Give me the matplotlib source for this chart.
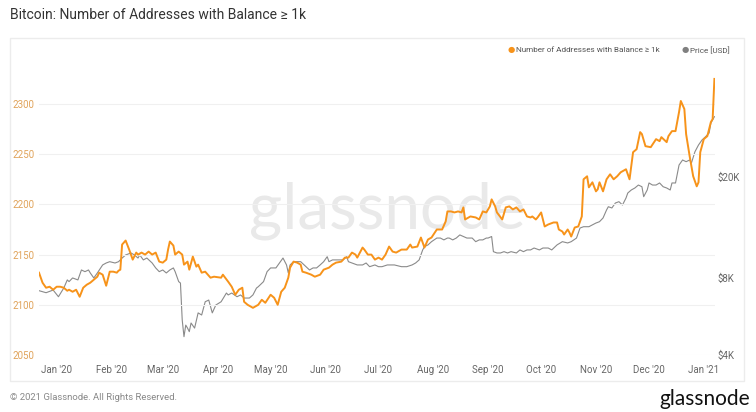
import pandas as pd
import numpy as np
import matplotlib.pyplot as plt
import matplotlib.dates as mdates
from matplotlib.patches import Rectangle
from matplotlib.ticker import FixedLocator, FixedFormatter, NullLocator

plt.rcParams['font.family'] = ['Roboto', 'DejaVu Sans']

# Number of addresses with balance >= 1k (left axis)
addr_dates = [
    "2019-12-22", "2019-12-24", "2019-12-26", "2019-12-28", "2019-12-30",
    "2020-01-01", "2020-01-03", "2020-01-05", "2020-01-07", "2020-01-08",
    "2020-01-10", "2020-01-12", "2020-01-14", "2020-01-16", "2020-01-18",
    "2020-01-20", "2020-01-22", "2020-01-24", "2020-01-25", "2020-01-27",
    "2020-01-29", "2020-01-31", "2020-02-02", "2020-02-04", "2020-02-05",
    "2020-02-06", "2020-02-07", "2020-02-09", "2020-02-11", "2020-02-13",
    "2020-02-15", "2020-02-16", "2020-02-18", "2020-02-20", "2020-02-22",
    "2020-02-24", "2020-02-26", "2020-02-28", "2020-03-01", "2020-03-03",
    "2020-03-04", "2020-03-05", "2020-03-07", "2020-03-08", "2020-03-10",
    "2020-03-12", "2020-03-13", "2020-03-15", "2020-03-16", "2020-03-18",
    "2020-03-20", "2020-03-21", "2020-03-23", "2020-03-25", "2020-03-28",
    "2020-03-30", "2020-04-03", "2020-04-04", "2020-04-07", "2020-04-09",
    "2020-04-11", "2020-04-13", "2020-04-15", "2020-04-16", "2020-04-18",
    "2020-04-21", "2020-04-24", "2020-04-26", "2020-04-28", "2020-05-01",
    "2020-05-03", "2020-05-05", "2020-05-07", "2020-05-09", "2020-05-11",
    "2020-05-12", "2020-05-14", "2020-05-16", "2020-05-18", "2020-05-19",
    "2020-05-21", "2020-05-24", "2020-05-26", "2020-05-29", "2020-05-31",
    "2020-06-03", "2020-06-05", "2020-06-07", "2020-06-10", "2020-06-12",
    "2020-06-14", "2020-06-16", "2020-06-18", "2020-06-19", "2020-06-22",
    "2020-06-23", "2020-06-25", "2020-06-27", "2020-06-29", "2020-07-01",
    "2020-07-03", "2020-07-05", "2020-07-07", "2020-07-09", "2020-07-11",
    "2020-07-14", "2020-07-17", "2020-07-19", "2020-07-20", "2020-07-23",
    "2020-07-25", "2020-07-27", "2020-07-29", "2020-07-31", "2020-08-03",
    "2020-08-06", "2020-08-08", "2020-08-09", "2020-08-11", "2020-08-13",
    "2020-08-15", "2020-08-17", "2020-08-18", "2020-08-19", "2020-08-22",
    "2020-08-25", "2020-08-27", "2020-08-29", "2020-08-31", "2020-09-02",
    "2020-09-03", "2020-09-05", "2020-09-06", "2020-09-09", "2020-09-11",
    "2020-09-13", "2020-09-15", "2020-09-17", "2020-09-19", "2020-09-21",
    "2020-09-23", "2020-09-25", "2020-09-26", "2020-09-28", "2020-09-29",
    "2020-10-01", "2020-10-03", "2020-10-05", "2020-10-08", "2020-10-10",
    "2020-10-11", "2020-10-13", "2020-10-14", "2020-10-16", "2020-10-17",
    "2020-10-18", "2020-10-20", "2020-10-22", "2020-10-24", "2020-10-25",
    "2020-10-27", "2020-10-28", "2020-10-30", "2020-11-01", "2020-11-02",
    "2020-11-03", "2020-11-05", "2020-11-07", "2020-11-09", "2020-11-11",
    "2020-11-13", "2020-11-15", "2020-11-16", "2020-11-18", "2020-11-20",
    "2020-11-22", "2020-11-24", "2020-11-26", "2020-11-27", "2020-11-29",
    "2020-12-02", "2020-12-05", "2020-12-07", "2020-12-08", "2020-12-11",
    "2020-12-12", "2020-12-14", "2020-12-16", "2020-12-18", "2020-12-19",
    "2020-12-21", "2020-12-22", "2020-12-24", "2020-12-26", "2020-12-28",
    "2020-12-29", "2020-12-30", "2021-01-01", "2021-01-03", "2021-01-05",
    "2021-01-06", "2021-01-07",
]
addr_values = [
    2132, 2122, 2117, 2118, 2115,
    2118, 2118, 2117, 2114, 2115,
    2113, 2115, 2108, 2117, 2120,
    2122, 2125, 2128, 2132, 2130,
    2119, 2133, 2133, 2132, 2134,
    2135, 2160, 2164, 2155, 2145,
    2152, 2150, 2152, 2150, 2153,
    2150, 2152, 2143, 2142, 2145,
    2155, 2163, 2159, 2150, 2153,
    2150, 2140, 2143, 2135, 2148,
    2138, 2140, 2132, 2133, 2127,
    2128, 2127, 2130, 2123, 2118,
    2110, 2115, 2117, 2103, 2100,
    2097, 2100, 2105, 2102, 2110,
    2107, 2100, 2113, 2117, 2127,
    2137, 2143, 2142, 2140, 2133,
    2132, 2130, 2128, 2130, 2135,
    2137, 2140, 2142, 2143, 2147,
    2147, 2152, 2150, 2147, 2157,
    2155, 2150, 2150, 2145, 2147,
    2145, 2150, 2158, 2153, 2152,
    2155, 2155, 2160, 2157, 2158,
    2167, 2157, 2165, 2167, 2175,
    2175, 2183, 2193, 2193, 2192,
    2193, 2192, 2197, 2185, 2188,
    2187, 2185, 2193, 2192, 2198,
    2205, 2198, 2192, 2185, 2197,
    2198, 2195, 2197, 2193, 2195,
    2188, 2187, 2188, 2185, 2187,
    2192, 2178, 2180, 2182, 2182,
    2175, 2173, 2170, 2175, 2172,
    2168, 2177, 2178, 2188, 2225,
    2228, 2217, 2222, 2213, 2215,
    2222, 2213, 2225, 2230, 2225,
    2228, 2232, 2233, 2235, 2225,
    2252, 2255, 2272, 2270, 2258,
    2257, 2265, 2263, 2267, 2262,
    2268, 2273, 2273, 2292, 2303,
    2295, 2270, 2248, 2228, 2218,
    2222, 2252, 2265, 2268, 2282,
    2285, 2325,
]

# BTC price in USD (right axis, log)
price_dates = [
    "2019-12-22", "2019-12-26", "2019-12-30", "2020-01-02", "2020-01-05",
    "2020-01-07", "2020-01-08", "2020-01-10", "2020-01-13", "2020-01-15",
    "2020-01-17", "2020-01-19", "2020-01-20", "2020-01-22", "2020-01-24",
    "2020-01-27", "2020-01-29", "2020-01-31", "2020-02-03", "2020-02-05",
    "2020-02-07", "2020-02-09", "2020-02-12", "2020-02-14", "2020-02-16",
    "2020-02-17", "2020-02-19", "2020-02-21", "2020-02-24", "2020-02-26",
    "2020-02-28", "2020-03-01", "2020-03-03", "2020-03-05", "2020-03-07",
    "2020-03-08", "2020-03-10", "2020-03-11", "2020-03-12", "2020-03-13",
    "2020-03-14", "2020-03-15", "2020-03-16", "2020-03-17", "2020-03-19",
    "2020-03-21", "2020-03-23", "2020-03-25", "2020-03-27", "2020-03-29",
    "2020-03-31", "2020-04-03", "2020-04-06", "2020-04-07", "2020-04-09",
    "2020-04-12", "2020-04-14", "2020-04-16", "2020-04-19", "2020-04-21",
    "2020-04-23", "2020-04-24", "2020-04-27", "2020-04-29", "2020-05-01",
    "2020-05-04", "2020-05-06", "2020-05-08", "2020-05-10", "2020-05-11",
    "2020-05-12", "2020-05-14", "2020-05-16", "2020-05-18", "2020-05-21",
    "2020-05-23", "2020-05-25", "2020-05-27", "2020-05-29", "2020-05-31",
    "2020-06-02", "2020-06-03", "2020-06-05", "2020-06-08", "2020-06-11",
    "2020-06-13", "2020-06-14", "2020-06-16", "2020-06-19", "2020-06-22",
    "2020-06-24", "2020-06-26", "2020-06-29", "2020-07-01", "2020-07-03",
    "2020-07-06", "2020-07-10", "2020-07-14", "2020-07-17", "2020-07-20",
    "2020-07-22", "2020-07-24", "2020-07-26", "2020-07-27", "2020-07-29",
    "2020-07-31", "2020-08-03", "2020-08-05", "2020-08-07", "2020-08-09",
    "2020-08-10", "2020-08-12", "2020-08-14", "2020-08-16", "2020-08-18",
    "2020-08-20", "2020-08-23", "2020-08-25", "2020-08-27", "2020-08-29",
    "2020-08-31", "2020-09-01", "2020-09-03", "2020-09-04", "2020-09-06",
    "2020-09-08", "2020-09-10", "2020-09-12", "2020-09-14", "2020-09-17",
    "2020-09-19", "2020-09-21", "2020-09-23", "2020-09-25", "2020-09-27",
    "2020-09-30", "2020-10-02", "2020-10-05", "2020-10-07", "2020-10-10",
    "2020-10-13", "2020-10-16", "2020-10-18", "2020-10-21", "2020-10-23",
    "2020-10-25", "2020-10-28", "2020-10-30", "2020-11-01", "2020-11-03",
    "2020-11-05", "2020-11-07", "2020-11-08", "2020-11-10", "2020-11-12",
    "2020-11-14", "2020-11-16", "2020-11-18", "2020-11-19", "2020-11-21",
    "2020-11-23", "2020-11-25", "2020-11-27", "2020-11-28", "2020-11-30",
    "2020-12-01", "2020-12-03", "2020-12-05", "2020-12-07", "2020-12-09",
    "2020-12-11", "2020-12-13", "2020-12-14", "2020-12-16", "2020-12-18",
    "2020-12-20", "2020-12-22", "2020-12-24", "2020-12-25", "2020-12-27",
    "2020-12-29", "2020-12-31", "2021-01-02", "2021-01-04", "2021-01-05",
    "2021-01-07",
]
price_values = [
    7150, 7020, 7190, 6770, 7320,
    7880, 7760, 8020, 7880, 8620,
    8490, 8620, 8390, 8020, 8390,
    9020, 9180, 9290, 9180, 9290,
    9600, 9870, 10050, 9870, 9600,
    9870, 9440, 9600, 9180, 8780,
    8490, 8620, 8390, 8620, 8780,
    8490, 7760, 7660, 5490, 4720,
    5240, 5100, 4940, 5340, 5100,
    5850, 5740, 6470, 6570, 5850,
    6280, 6470, 7000, 6880, 7000,
    6770, 6880, 6690, 6690, 6880,
    7320, 7410, 7760, 8490, 8780,
    8780, 9180, 9600, 9020, 8390,
    9020, 9290, 9290, 9290, 8880,
    8620, 8780, 8780, 9020, 9290,
    9720, 9290, 9440, 9440, 9440,
    9720, 9290, 9180, 9020, 9020,
    9180, 8880, 9020, 8880, 8880,
    9020, 9020, 8880, 8880, 9020,
    9180, 9440, 10330, 10640, 10810,
    11130, 11500, 11500, 11310, 11500,
    11500, 11310, 11500, 11830, 11660,
    11500, 11500, 11130, 11310, 11310,
    11500, 11500, 11660, 10170, 10050,
    10050, 10170, 10050, 10170, 10050,
    10330, 10170, 10330, 10330, 10510,
    10330, 10510, 10510, 10330, 10810,
    11130, 11000, 11130, 11500, 12590,
    12740, 12740, 12950, 13170, 13330,
    13780, 14820, 15260, 15090, 15780,
    15970, 15500, 16510, 17270, 17750,
    18070, 18560, 18280, 16710, 17750,
    18910, 18560, 18560, 18910, 18280,
    18070, 17750, 18910, 18910, 22240,
    23270, 22920, 23270, 22650, 25080,
    26640, 27880, 28720, 29680, 32500,
    34400,
]

left_ticks = [2050, 2100, 2150, 2200, 2250, 2300]
right_ticks = [4000, 8000, 20000]
right_labels = ["$4K", "$8K", "$20K"]

addr_x = pd.to_datetime(addr_dates)
price_x = pd.to_datetime(price_dates)

orange = "#f7931a"
grey_line = "#8a8a8a"
tick_orange = "#e0a35a"
tick_grey = "#666666"

fig = plt.figure(figsize=(7.56, 4.12), dpi=100)
fig.patch.set_facecolor("white")

# outer card border
fig.patches.append(Rectangle((10 / 756, 1 - 381 / 412), 734 / 756, 343 / 412,
                             transform=fig.transFigure, fill=False,
                             edgecolor="#ececec", linewidth=1.0))

ax = fig.add_axes([39 / 756, 1 - 355 / 412, 676 / 756, 295 / 412])
ax2 = ax.twinx()
ax.set_zorder(ax2.get_zorder() + 1)
ax.patch.set_visible(False)

# price on log scale (drawn underneath)
ax2.plot(price_x, price_values, color=grey_line, linewidth=0.8, zorder=2)
ax2.set_yscale("log")
ax2.set_ylim(4000, 4000 * 10 ** (295 / 255))
ax2.yaxis.set_major_locator(FixedLocator(right_ticks))
ax2.yaxis.set_major_formatter(FixedFormatter(right_labels))
ax2.yaxis.set_minor_locator(NullLocator())
ax2.tick_params(axis="y", length=0, pad=1.5, labelsize=7, labelcolor=tick_grey)

# watermark
ax2.text(0.515, 0.49, "glassnode", transform=ax.transAxes, ha="center", va="center",
         fontsize=46, color="#e9e9e9", family=["Lato", "DejaVu Sans"], zorder=0.5)

ax.plot(addr_x, addr_values, color=orange, linewidth=1.4, zorder=3)
ax.set_ylim(2050, 2050 + 295 / 1.004)
ax.set_yticks(left_ticks)
ax.tick_params(axis="y", length=0, pad=3, labelsize=7, labelcolor=tick_orange)
ax.grid(axis="y", color="#f0f0f0", linewidth=0.8)
ax.set_axisbelow(True)

ax.set_xlim(pd.Timestamp("2019-12-22"), pd.Timestamp("2021-01-07 08:00"))
ax.xaxis.set_major_locator(mdates.MonthLocator())
ax.xaxis.set_major_formatter(mdates.DateFormatter("%b '%y"))
ax.tick_params(axis="x", length=0, pad=7, labelsize=7, labelcolor=tick_grey)

for a in (ax, ax2):
    for s in a.spines.values():
        s.set_visible(False)

# title and legend
fig.text(10 / 756, 1 - 15 / 412, "Bitcoin: Number of Addresses with Balance \u2265 1k",
         ha="left", va="center", fontsize=10, color="#333333")
fig.text(511 / 756, 1 - 50 / 412, "\u25CF", ha="center", va="center", fontsize=6, color=orange)
fig.text(516 / 756, 1 - 50 / 412, "Number of Addresses with Balance \u2265 1k",
         ha="left", va="center", fontsize=5.9, color="#555555")
fig.text(685 / 756, 1 - 50 / 412, "\u25CF", ha="center", va="center", fontsize=6, color="#808080")
fig.text(690 / 756, 1 - 50 / 412, "Price [USD]", ha="left", va="center",
         fontsize=5.9, color="#555555")

# footer
fig.text(10 / 756, 1 - 398 / 412, "\u00A9 2021 Glassnode. All Rights Reserved.",
         ha="left", va="center", fontsize=6.8, color="#888888")
fig.text(750 / 756, 1 - 399 / 412, "glassnode", ha="right", va="center",
         fontsize=15, color="#111111", family=["Lato", "DejaVu Sans"])

plt.savefig("out.png", dpi=100)
